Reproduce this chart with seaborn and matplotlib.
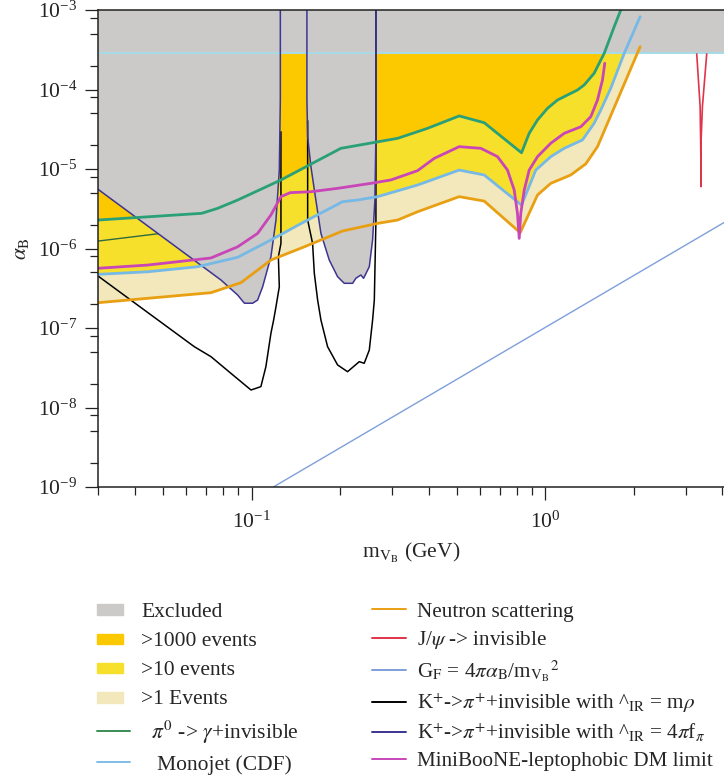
import numpy as np
import matplotlib
matplotlib.use("Agg")
import matplotlib.pyplot as plt
import seaborn as sns
from matplotlib.patches import Patch, Rectangle
from matplotlib.lines import Line2D
from matplotlib.legend_handler import HandlerPatch
from matplotlib.ticker import LogLocator, NullFormatter

# ---------------- data ----------------
mono_y = 2.9e-4  # Monojet (CDF) horizontal limit

green_x = [0.03, 0.0676, 0.0766, 0.0896, 0.1258, 0.2012, 0.3138, 0.397, 0.5086, 0.6187,
           0.8287, 0.88, 0.939, 1.016, 1.099, 1.188, 1.285, 1.354, 1.464, 1.584, 1.713, 1.804]
green_y = [2.28e-6, 2.77e-6, 3.2e-6, 4.07e-6, 7.28e-6, 1.82e-5, 2.43e-5, 3.25e-5, 4.65e-5, 3.82e-5,
           1.60e-5, 2.81e-5, 4.13e-5, 5.8e-5, 7.38e-5, 8.53e-5, 9.86e-5, 1.14e-4, 1.60e-4, 2.85e-4, 6.16e-4, 1e-3]

pi_thin_x = [0.03, 0.0492]
pi_thin_y = [1.24e-6, 1.55e-6]

blue_x = [0.03, 0.0443, 0.0655, 0.0896, 0.1163, 0.1511, 0.2039, 0.2293, 0.2683, 0.3670, 0.5086,
          0.6187, 0.8287, 0.9268, 1.0423, 1.158, 1.336, 1.464, 1.542, 1.668, 1.853, 2.099]
blue_y = [4.73e-7, 5.10e-7, 5.90e-7, 7.75e-7, 1.28e-6, 2.17e-6, 3.88e-6, 4.07e-6, 4.49e-6, 6.29e-6, 9.7e-6,
          8.41e-6, 3.52e-6, 9.7e-6, 1.43e-5, 1.82e-5, 2.32e-5, 3.76e-5, 5.52e-5, 1.04e-4, 2.85e-4, 8.24e-4]

mag_x = [0.03, 0.0443, 0.0727, 0.0896, 0.1048, 0.1163, 0.1258, 0.1353, 0.1591, 0.1961, 0.2545,
         0.2977, 0.3670, 0.4181, 0.5086, 0.6026, 0.6866, 0.7424, 0.7825, 0.8028, 0.8139, 0.8240,
         0.8465, 0.8802, 0.9393, 1.0423, 1.158, 1.319, 1.426, 1.503, 1.563, 1.591]
mag_y = [5.64e-7, 6.19e-7, 7.60e-7, 1.05e-6, 1.55e-6, 2.64e-6, 4.49e-6, 5.04e-6, 5.18e-6, 5.71e-6, 6.60e-6,
         7.28e-6, 9.53e-6, 1.36e-5, 1.91e-5, 1.82e-5, 1.43e-5, 9.7e-6, 5.44e-6, 2.77e-6, 1.34e-6, 2.77e-6,
         5.44e-6, 9.7e-6, 1.43e-5, 2.11e-5, 2.81e-5, 3.40e-5, 4.55e-5, 7.38e-5, 1.32e-4, 2.14e-4]

neut_x = [0.03, 0.0727, 0.0920, 0.1163, 0.1511, 0.2039, 0.2683, 0.3138, 0.3670, 0.5086, 0.6187,
          0.8203, 0.9393, 1.0423, 1.219, 1.371, 1.503, 2.099]
neut_y = [2.08e-7, 2.78e-7, 3.72e-7, 7.16e-7, 1.05e-6, 1.66e-6, 2.07e-6, 2.28e-6, 2.90e-6, 4.49e-6, 3.95e-6,
          1.58e-6, 4.71e-6, 6.60e-6, 8.41e-6, 1.16e-5, 1.91e-5, 3.45e-4]

kf1_x = [0.03, 0.0786, 0.0896, 0.0945, 0.1008, 0.1048, 0.109, 0.1163, 0.121, 0.1242, 0.1252, 0.1252]
kf1_y = [5.56e-6, 4.02e-7, 2.60e-7, 2.05e-7, 2.05e-7, 2.25e-7, 3.30e-7, 7.88e-7, 2.28e-6, 9.7e-6, 7.38e-5, 1e-3]

kf2_x = [0.1542, 0.1542, 0.1551, 0.1591, 0.1654, 0.1721, 0.1837, 0.1961, 0.2066, 0.2206, 0.2263,
         0.2353, 0.2404, 0.2514, 0.258, 0.2627, 0.2648, 0.2648]
kf2_y = [1e-3, 7.38e-5, 2.55e-5, 1.07e-5, 4.07e-6, 1.55e-6, 7.16e-7, 4.42e-7, 3.65e-7, 3.65e-7, 4.22e-7,
         4.64e-7, 4.22e-7, 5.9e-7, 1.28e-6, 4.07e-6, 2.84e-5, 1e-3]

krho1_x = [0.03, 0.0638, 0.0727, 0.0850, 0.0995, 0.1075, 0.1118, 0.1163, 0.1188, 0.1210, 0.1242,
           0.1233, 0.1258, 0.1258]
krho1_y = [4.51e-7, 5.82e-8, 4.36e-8, 2.69e-8, 1.66e-8, 1.83e-8, 3.26e-8, 8.57e-8, 1.26e-7, 1.85e-7, 3.30e-7,
           7.88e-7, 1.16e-6, 2.94e-5]

krho2_x = [0.1551, 0.1551, 0.1572, 0.1612, 0.1634, 0.1677, 0.1721, 0.1813, 0.1961, 0.2120, 0.2324,
           0.2416, 0.2514, 0.258, 0.2615, 0.2648, 0.2648]
krho2_y = [4.06e-5, 2.28e-6, 1.80e-6, 1.16e-6, 4.88e-7, 2.25e-7, 1.26e-7, 5.82e-8, 3.43e-8, 2.82e-8, 3.77e-8,
           3.6e-8, 5.28e-8, 1.26e-7, 2.25e-7, 2.28e-6, 1e-3]

jpsi_x = [3.271, 3.359, 3.375, 3.386, 3.378, 3.42, 3.537]
jpsi_y = [2.8e-4, 6.1e-5, 1.9e-5, 6.0e-6, 1.9e-5, 6.1e-5, 2.8e-4]

gf_x = [0.1185, 4.05]
gf_y = [1e-9, 2.12e-6]

labels_left = ["Excluded", ">1000 events", ">10 events", ">1 Events",
               r"  $\pi^0$ -> $\gamma$+invisible", r"   Monojet (CDF)"]
labels_right = ["Neutron scattering", r"J/$\psi$ -> invisible",
                r"G$_\mathrm{F}$ = 4$\pi\alpha_\mathrm{B}$/m$_{\mathrm{V}_\mathrm{B}}$$^{2}$",
                r"K$^{+}$->$\pi^{+}$+invisible with ^$_\mathrm{IR}$ = m$\rho$",
                r"K$^{+}$->$\pi^{+}$+invisible with ^$_\mathrm{IR}$ = 4$\pi$f$_\pi$",
                "MiniBooNE-leptophobic DM limit"]

# ---------------- style ----------------
C_EXCL = "#cbcac8"
C_1000 = "#fcc800"
C_10 = "#f7e02c"
C_1 = "#f2e8bb"
C_GREEN = "#2aa079"
C_BLUE = "#76b9e6"
C_MONO = "#a7dbe8"
C_NEUT = "#e89f12"
C_RED = "#e0344a"
C_GF = "#7f9fdc"
C_NAVY = "#3c3592"
C_MAG = "#c846b8"

sns.set_theme(style="ticks")
plt.rcParams["font.family"] = ["Liberation Serif", "DejaVu Serif"]
plt.rcParams["mathtext.fontset"] = "stix"
plt.rcParams["font.size"] = 15

fig = plt.figure(figsize=(7.24, 7.81), dpi=100)
ax = fig.add_axes([98 / 724, 294 / 781, 626 / 724, 477 / 781])
ax.set_xscale("log")
ax.set_yscale("log")
ax.set_xlim(0.03, 4.05)
ax.set_ylim(1e-9, 1e-3)

# ---------------- filled regions ----------------
ax.fill_between(green_x, green_y, 1e-3, color=C_1000, lw=0, zorder=1)
ax.fill(list(blue_x) + list(green_x)[::-1], list(blue_y) + list(green_y)[::-1], color=C_10, lw=0, zorder=1.1)
ax.fill(list(neut_x) + list(blue_x)[::-1], list(neut_y) + list(blue_y)[::-1], color=C_1, lw=0, zorder=1.2)


def line(x, y, **kw):
    sns.lineplot(x=x, y=y, sort=False, estimator=None, ax=ax, legend=False, **kw)


line(pi_thin_x, pi_thin_y, color="#2f6b3f", linewidth=1.0, zorder=1.5)

# excluded (grey)
ax.fill_between([0.03, 4.05], [mono_y, mono_y], 1e-3, color=C_EXCL, lw=0, zorder=2)
ax.fill(list(kf1_x) + [0.03], list(kf1_y) + [1e-3], color=C_EXCL, lw=0, zorder=2)
ax.fill(kf2_x, kf2_y, color=C_EXCL, lw=0, zorder=2)

# lines
line(gf_x, gf_y, color=C_GF, linewidth=1.0, zorder=3)
line([0.03, 4.05], [mono_y, mono_y], color=C_MONO, linewidth=1.4, zorder=3)
line(krho1_x, krho1_y, color="black", linewidth=1.1, zorder=3.2)
line(krho2_x, krho2_y, color="black", linewidth=1.1, zorder=3.2)
line(kf1_x, kf1_y, color=C_NAVY, linewidth=1.1, zorder=3.3)
line(kf2_x, kf2_y, color=C_NAVY, linewidth=1.1, zorder=3.3)
line(neut_x, neut_y, color=C_NEUT, linewidth=2.0, zorder=4)
line(blue_x, blue_y, color=C_BLUE, linewidth=2.0, zorder=4.1)
line(mag_x, mag_y, color=C_MAG, linewidth=2.0, zorder=4.2)
line(green_x, green_y, color=C_GREEN, linewidth=2.0, zorder=4.3)
line(jpsi_x, jpsi_y, color=C_RED, linewidth=1.2, zorder=4)

# ---------------- axes cosmetics ----------------
for s in ["left", "bottom", "top"]:
    ax.spines[s].set_color("#222222")
    ax.spines[s].set_linewidth(1.1)
    ax.spines[s].set_zorder(6)
ax.spines["right"].set_visible(False)

ax.xaxis.set_major_locator(LogLocator(base=10, numticks=20))
ax.xaxis.set_minor_locator(LogLocator(base=10, subs=np.arange(2, 10), numticks=20))
ax.yaxis.set_major_locator(LogLocator(base=10, numticks=20))
ax.yaxis.set_minor_locator(LogLocator(base=10, subs=[2, 5, 8], numticks=20))
ax.xaxis.set_minor_formatter(NullFormatter())
ax.yaxis.set_minor_formatter(NullFormatter())
ax.tick_params(which="major", direction="out", length=9.4, width=0.9, pad=5.5,
               labelsize=15.5, colors="#222222", top=False, right=False)
ax.tick_params(which="minor", direction="out", length=5.6, width=0.9, colors="#222222",
               top=False, right=False)
ax.tick_params(axis="x", which="major", pad=8.5)

ax.set_xlabel(r"m$_{\mathrm{V}_\mathrm{B}}$ (GeV)", fontsize=15.5, labelpad=6)
ax.set_ylabel(r"$\alpha_\mathrm{B}$", fontsize=15.5, labelpad=5)


# ---------------- legend ----------------
def small_rect(legend, orig_handle, xdescent, ydescent, width, height, fontsize):
    return Rectangle((-xdescent, -ydescent + height * 0.12), width * 0.78, height * 0.72)


handles_left = [Patch(color=C_EXCL), Patch(color=C_1000), Patch(color=C_10), Patch(color=C_1),
                Line2D([], [], color="#3a8c55", lw=1.4), Line2D([], [], color="#80bde8", lw=1.4)]
handles_right = [Line2D([], [], color=C_NEUT, lw=1.4), Line2D([], [], color=C_RED, lw=1.4),
                 Line2D([], [], color=C_GF, lw=1.4), Line2D([], [], color="black", lw=1.4),
                 Line2D([], [], color=C_NAVY, lw=1.4), Line2D([], [], color=C_MAG, lw=1.4)]

leg1 = fig.legend(handles_left, labels_left, loc="upper left",
                  bbox_to_anchor=(97 / 724, 1 - 602 / 781),
                  frameon=False, fontsize=15.5, handlelength=1.55, handletextpad=0.5,
                  labelspacing=0.42, borderaxespad=0, borderpad=0,
                  handler_map={Patch: HandlerPatch(patch_func=small_rect)})
leg2 = fig.legend(handles_right, labels_right, loc="upper left",
                  bbox_to_anchor=(372 / 724, 1 - 602 / 781),
                  frameon=False, fontsize=15.2, handlelength=1.6, handletextpad=0.55,
                  labelspacing=0.34, borderaxespad=0, borderpad=0)

fig.savefig("out.png", dpi=100)
